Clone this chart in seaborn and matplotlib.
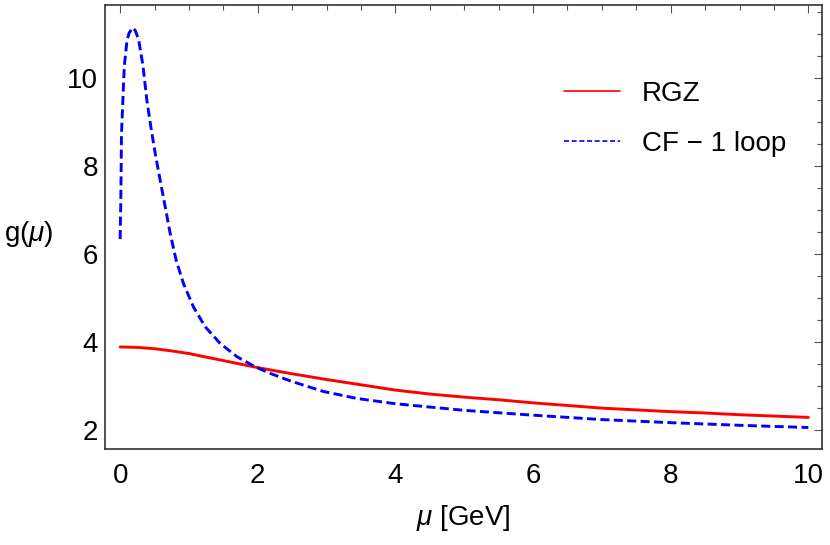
import numpy as np
import pandas as pd
import matplotlib
matplotlib.use("Agg")
import matplotlib.pyplot as plt
from matplotlib.lines import Line2D
from matplotlib.ticker import MultipleLocator
import seaborn as sns

# values
mu_rgz = [0.0, 0.25, 0.5, 0.75, 1.0, 1.25, 1.5, 1.75, 2.0, 2.5, 3.0, 3.5, 4.0,
          4.5, 5.0, 5.5, 6.0, 6.5, 7.0, 7.5, 8.0, 8.5, 9.0, 9.5, 10.0]
g_rgz = [3.89, 3.88, 3.85, 3.80, 3.74, 3.66, 3.58, 3.50, 3.42, 3.28, 3.15, 3.03, 2.91,
         2.82, 2.75, 2.69, 2.62, 2.56, 2.50, 2.46, 2.42, 2.39, 2.35, 2.32, 2.29]

mu_cf = [0.0, 0.01, 0.02, 0.04, 0.06, 0.10, 0.13, 0.18, 0.22, 0.27, 0.33, 0.388,
         0.446, 0.509, 0.581, 0.654, 0.727, 0.814, 0.92, 1.065, 1.235, 1.453,
         1.696, 1.96, 2.18, 2.47, 2.95, 3.44, 4.0, 5.0, 6.0, 7.0, 8.0, 9.0, 10.0]
g_cf = [6.34, 7.23, 8.75, 9.5, 10.26, 10.86, 11.02, 11.14, 11.08, 10.86, 10.3, 9.50,
        8.89, 8.29, 7.68, 7.08, 6.47, 5.86, 5.33, 4.80, 4.35, 3.97,
        3.67, 3.44, 3.29, 3.12, 2.88, 2.72, 2.60, 2.45, 2.34, 2.24, 2.17, 2.11, 2.06]

labels = ["RGZ", "CF \u2212 1 loop"]
colors = ["#ff0000", "#0000ff"]

sns.set_style("white")
plt.rcParams["font.family"] = ["Liberation Sans", "DejaVu Sans"]
plt.rcParams["mathtext.fontset"] = "custom"
plt.rcParams["mathtext.it"] = "Liberation Sans:italic"
plt.rcParams["mathtext.rm"] = "Liberation Sans"
plt.rcParams["text.color"] = "black"
plt.rcParams["axes.labelcolor"] = "black"

fig = plt.figure(figsize=(8.3, 5.45), dpi=100)
ax = fig.add_axes([0.1265, 0.176, 0.864, 0.815])

df_rgz = pd.DataFrame({"mu": mu_rgz, "g": g_rgz})
df_cf = pd.DataFrame({"mu": mu_cf, "g": g_cf})

sns.lineplot(data=df_rgz, x="mu", y="g", ax=ax, color=colors[0], linewidth=2.1)
sns.lineplot(data=df_cf, x="mu", y="g", ax=ax, color=colors[1], linewidth=2.1)
ax.lines[1].set_dashes([3.1, 1.5])

ax.set_xlim(-0.22, 10.2)
ax.set_ylim(1.57, 11.66)

ax.xaxis.set_major_locator(MultipleLocator(2))
ax.xaxis.set_minor_locator(MultipleLocator(0.5))
ax.yaxis.set_major_locator(MultipleLocator(2))
ax.yaxis.set_minor_locator(MultipleLocator(0.5))
ax.tick_params(which="both", direction="in", top=True, right=True,
               color="#555555", width=0.8)
ax.tick_params(which="major", length=6, labelsize=20, labelcolor="black")
ax.tick_params(axis="x", which="major", pad=10)
ax.tick_params(axis="y", which="major", pad=5)
ax.tick_params(which="minor", length=3.5)
for side in ax.spines.values():
    side.set_color("#333333")
    side.set_linewidth(1.2)

ax.set_xlabel(r"$\mu$ [GeV]", fontsize=20, labelpad=10)
ax.set_ylabel(r"g($\mu$)", fontsize=20, rotation=0, labelpad=0)
ax.yaxis.set_label_coords(-0.107, 0.45)

handles = [Line2D([], [], color=colors[0], lw=1.2),
           Line2D([], [], color=colors[1], lw=1.2, dashes=(3, 1.6))]
ax.legend(handles, labels, loc="upper right", bbox_to_anchor=(0.985, 0.885),
          frameon=False, fontsize=20, handlelength=2.0, handletextpad=0.8,
          labelspacing=0.85)

fig.savefig("out.png", dpi=100)
